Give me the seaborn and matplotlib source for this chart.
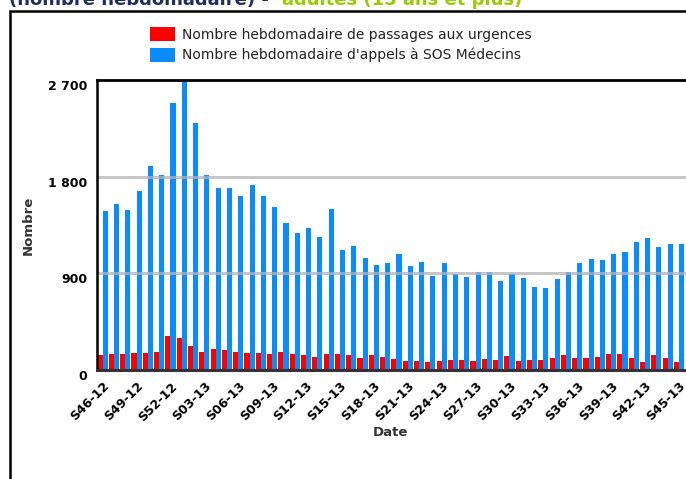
import matplotlib
matplotlib.use("Agg")
import matplotlib.pyplot as plt
import seaborn as sns
import pandas as pd
from matplotlib.patches import Rectangle, Patch

weeks = [f"S{w:02d}-12" for w in range(46, 53)] + [f"S{w:02d}-13" for w in range(1, 46)]

urgences = [137, 146, 146, 161, 161, 171, 313, 295, 220, 171,
            199, 189, 171, 161, 161, 152, 171, 152, 143, 124,
            152, 149, 143, 109, 140, 124, 105, 84, 84, 78,
            87, 96, 96, 87, 105, 96, 133, 87, 96, 93,
            115, 143, 115, 112, 124, 152, 149, 115, 78, 143,
            115, 78]

sos = [1477, 1550, 1489, 1662, 1900, 1819, 2483, 2695, 2296, 1819,
       1691, 1691, 1616, 1724, 1616, 1522, 1372, 1280, 1325, 1241,
       1502, 1120, 1157, 1046, 982, 992, 1076, 964, 1001, 877,
       992, 898, 864, 917, 908, 833, 896, 852, 774, 768,
       843, 908, 992, 1029, 1020, 1076, 1094, 1188, 1225, 1141,
       1169, 1169]

series_names = ["Nombre hebdomadaire de passages aux urgences",
                "Nombre hebdomadaire d'appels à SOS Médecins"]
colors = ["#ff0000", "#0a8cff"]

df = pd.DataFrame({
    "Date": weeks * 2,
    "Série": [series_names[0]] * len(weeks) + [series_names[1]] * len(weeks),
    "Nombre": urgences + sos,
})

sns.set_theme(style="white")
plt.rcParams["font.family"] = ["DejaVu Sans"]

W, H = 686, 479
fig = plt.figure(figsize=(W / 100, H / 100), dpi=100)
ax = fig.add_axes([97 / W, 1 - 370 / H, (690 - 97) / W, 290 / H])

sns.barplot(data=df, x="Date", y="Nombre", hue="Série", hue_order=series_names,
            palette=colors, order=weeks, width=0.9, gap=0, saturation=1,
            linewidth=0, ax=ax, legend=False)

ax.set_ylim(0, 2700)
ax.set_xlim(-0.5, -0.5 + (690 - 97) / 11.3)
yt = [0, 900, 1800, 2700]
ax.set_yticks(yt)
ax.set_yticklabels(["0", "900", "1 800", "2 700"], fontsize=9, fontweight="bold", color="black")
for lab in ax.get_yticklabels():
    lab.set_verticalalignment("top")
ax.tick_params(axis="y", length=0, pad=7)

for v in [900, 1800]:
    ax.axhline(v, color="#b4b4b4", lw=2.2, alpha=0.75, zorder=3)

xt = list(range(0, len(weeks), 3))
ax.set_xticks(xt)
ax.set_xticklabels([weeks[i] for i in xt], rotation=45, ha="right", va="top",
                   rotation_mode="anchor", fontsize=9, fontweight="bold", color="black")
ax.tick_params(axis="x", length=4, width=1.5, color="black", direction="out", pad=3)

ax.set_xlabel("")
ax.set_ylabel("")
ax.spines["top"].set_color("black")
ax.spines["top"].set_linewidth(2)
ax.spines["left"].set_color("black")
ax.spines["left"].set_linewidth(1.8)
ax.spines["bottom"].set_color("#333333")
ax.spines["bottom"].set_linewidth(2.2)
ax.spines["right"].set_visible(False)
for s in ax.spines.values():
    s.set_zorder(4)

fig.text(28 / W, 1 - 225 / H, "Nombre", rotation=90, ha="center", va="center",
         fontsize=9.5, fontweight="bold", color="#333333")
fig.text(390 / W, 1 - 432 / H, "Date", ha="center", va="center",
         fontsize=9.5, fontweight="bold", color="#333333")

# legend
handles = [Patch(facecolor=c, edgecolor="none") for c in colors]
fig.legend(handles, series_names, loc="upper left",
           bbox_to_anchor=(150 / W, 1 - 27 / H), frameon=False,
           borderpad=0, borderaxespad=0, handlelength=1.8, handleheight=1.2,
           handletextpad=0.5, labelspacing=0.42, prop={"size": 10},
           labelcolor="#222222")

# outer frame
fig.patches.append(Rectangle((10 / W, -0.1), 1.2, 1 - 11 / H + 0.1,
                             transform=fig.transFigure, fill=False,
                             edgecolor="black", lw=1.8, zorder=0))

# cut title at top
fig.text(9 / W, 1 - 5 / H, "(nombre hebdomadaire) -", ha="left", va="baseline",
         fontsize=13, fontweight="bold", color="#1c2f5e")
fig.text(282 / W, 1 - 5 / H, "adultes (15 ans et plus)", ha="left", va="baseline",
         fontsize=13, fontweight="bold", color="#99cc00")

fig.savefig("out.png", dpi=100)
